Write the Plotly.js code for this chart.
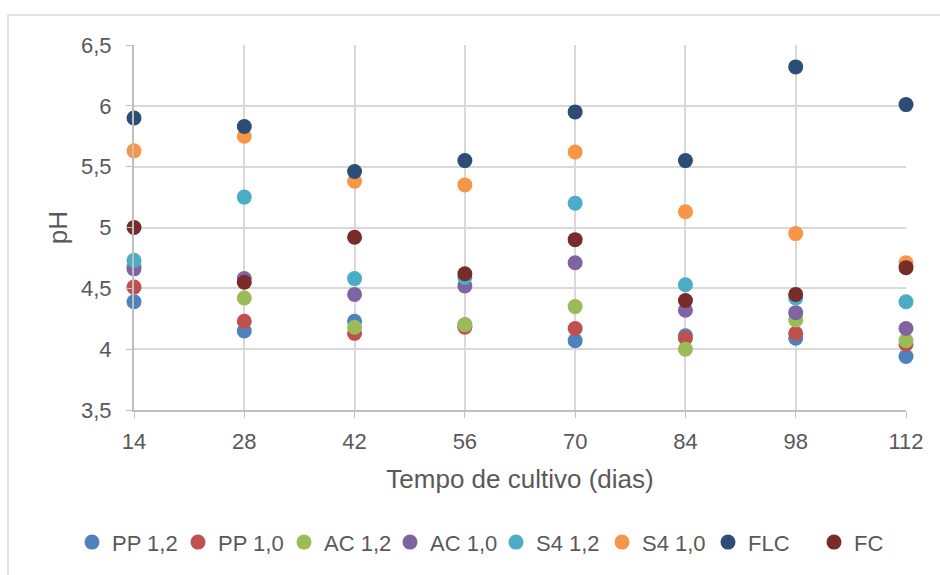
<!DOCTYPE html>
<html>
<head>
<meta charset="utf-8">
<script src="https://cdn.plot.ly/plotly-3.0.1.min.js"></script>
<style>
html,body{margin:0;padding:0;background:#fff;}
#chart{width:940px;height:575px;}
</style>
</head>
<body>
<div id="chart"></div>
<script>
// Days of cultivation (x values)
const days = [14, 28, 42, 56, 70, 84, 98, 112];

// pH values per treatment
const pp12 = [4.39, 4.15, 4.23, 4.20, 4.07, 4.11, 4.09, 3.94];
const pp10 = [4.51, 4.23, 4.13, 4.18, 4.17, 4.09, 4.13, 4.04];
const ac12 = [4.69, 4.42, 4.18, 4.20, 4.35, 4.00, 4.24, 4.07];
const ac10 = [4.66, 4.58, 4.45, 4.52, 4.71, 4.32, 4.30, 4.17];
const s412 = [4.73, 5.25, 4.58, 4.59, 5.20, 4.53, 4.42, 4.39];
const s410 = [5.63, 5.75, 5.38, 5.35, 5.62, 5.13, 4.95, 4.71];
const flc  = [5.90, 5.83, 5.46, 5.55, 5.95, 5.55, 6.32, 6.01];
const fc   = [5.00, 4.55, 4.92, 4.62, 4.90, 4.40, 4.45, 4.67];

const seriesNames = ["PP 1,2", "PP 1,0", "AC 1,2", "AC 1,0", "S4 1,2", "S4 1,0", "FLC", "FC"];
const seriesData = [pp12, pp10, ac12, ac10, s412, s410, flc, fc];
const colors = ["#4F81BD", "#C0504D", "#9BBB59", "#8064A2", "#4BACC6", "#F79646", "#2C4D75", "#772C2A"];

const traces = seriesNames.map((name, i) => ({
  type: "scatter",
  mode: "markers",
  name: name,
  x: days,
  y: seriesData[i],
  cliponaxis: false,
  marker: {symbol: "circle", size: 15, color: colors[i], line: {width: 0}}
}));

const fontFam = "Liberation Sans, Arial, sans-serif";
const layout = {
  width: 940,
  height: 575,
  separators: ", ",
  paper_bgcolor: "#ffffff",
  plot_bgcolor: "#ffffff",
  margin: {l: 134, r: 34, t: 45, b: 165},
  font: {family: fontFam, color: "#595959", size: 22},
  showlegend: true,
  xaxis: {
    range: [14, 112],
    automargin: false,
    tickmode: "array",
    tickvals: days,
    ticktext: days.map(String),
    showgrid: true,
    gridcolor: "#D9D9D9",
    gridwidth: 2,
    zeroline: false,
    showline: true,
    linecolor: "#BFBFBF",
    linewidth: 2,
    ticks: "outside",
    ticklen: 6,
    tickwidth: 1,
    tickcolor: "#BFBFBF",
    ticklabelstandoff: 5,
    tickfont: {size: 22, color: "#595959"},
    title: {text: "Tempo de cultivo (dias)", font: {size: 26, color: "#595959"}, standoff: 16}
  },
  yaxis: {
    range: [3.5, 6.5],
    automargin: false,
    dtick: 0.5,
    tick0: 3.5,
    showgrid: true,
    gridcolor: "#D9D9D9",
    gridwidth: 2,
    zeroline: false,
    showline: true,
    linecolor: "#BFBFBF",
    linewidth: 2,
    ticks: "outside",
    ticklen: 6,
    tickwidth: 1,
    tickcolor: "#BFBFBF",
    ticklabelstandoff: 10,
    tickfont: {size: 22, color: "#595959"},
    title: {text: "pH", font: {size: 26, color: "#595959"}, standoff: 6}
  },
  legend: {
    orientation: "h",
    xref: "paper",
    x: (72 - 134) / 772,
    xanchor: "left",
    y: -0.42,
    yanchor: "bottom",
    font: {size: 22, color: "#595959"},
    itemwidth: 30,
    entrywidth: 61,
    tracegroupgap: 0
  },
  shapes: [{
    type: "rect",
    xref: "paper", yref: "paper",
    x0: (8 - 134) / 772, x1: 1.5,
    y0: -1, y1: 1 + 30 / 365,
    line: {color: "#D9D9D9", width: 1.5},
    fillcolor: "rgba(0,0,0,0)",
    layer: "below"
  }]
};

Plotly.newPlot("chart", traces, layout, {displayModeBar: false, staticPlot: true});
</script>
</body>
</html>
